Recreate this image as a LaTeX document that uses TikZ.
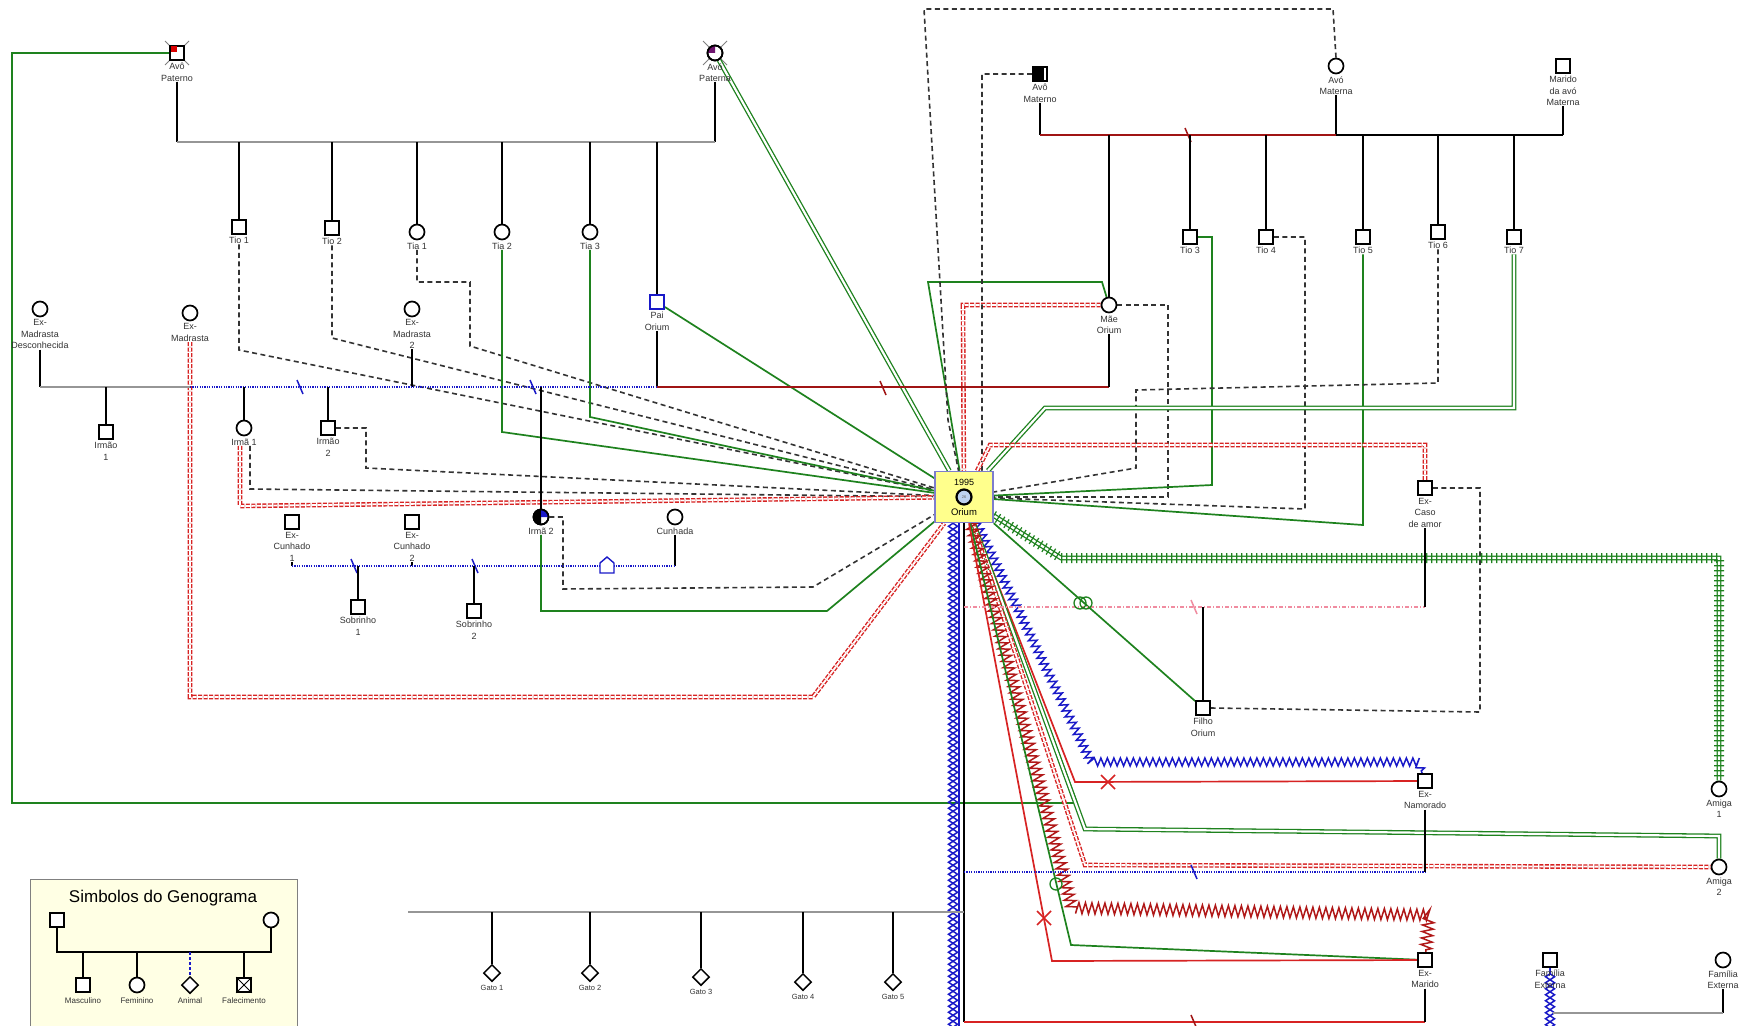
\documentclass[tikz,border=0pt]{standalone}
\usepackage{fontspec}
\setmainfont{Liberation Sans}
\usetikzlibrary{shapes.geometric,decorations.pathmorphing,decorations.pathreplacing,calc}
\pgfdeclarelayer{bg}
\pgfsetlayers{bg,main}
\definecolor{grn}{RGB}{30,130,30}
\definecolor{rd}{RGB}{215,35,35}
\definecolor{drd}{RGB}{160,20,20}
\definecolor{blu}{RGB}{25,25,200}
\definecolor{gry}{RGB}{150,150,150}
\definecolor{pnk}{RGB}{240,140,160}
\definecolor{ylw}{RGB}{255,255,140}
\definecolor{boxb}{RGB}{125,125,205}
\definecolor{legf}{RGB}{255,255,228}
\definecolor{prp}{RGB}{110,20,110}
\newcommand{\mkperson}[4]{\node[#1] (#2) at (#3) {};
  \node[lbl,anchor=north] (#2L) at ([yshift=-1.5pt]#2.south) {#4};}
\newcommand{\divmark}[3]{\draw[#1,line width=1.5pt] (#2-3,#3-7) -- (#2+3,#3+7);}
\newcommand{\xmark}[2]{\draw[rd,line width=1.6pt] (#1-7,#2-7) -- (#1+7,#2+7) (#1-7,#2+7) -- (#1+7,#2-7);}
\begin{document}
\begin{tikzpicture}[x=1pt,y=-1pt,
 male/.style={rectangle,draw,line width=1.7pt,fill=white,minimum size=14pt,inner sep=0},
 female/.style={circle,draw,line width=1.7pt,fill=white,minimum size=15pt,inner sep=0},
 animal/.style={diamond,draw,line width=1.5pt,fill=white,minimum size=17pt,inner sep=0},
 lbl/.style={font=\fontsize{9}{11.5}\selectfont,align=center,inner sep=0.5pt,text=black!80},
 fam/.style={line width=1.7pt,black},
 sibg/.style={line width=2.2pt,gry},
 marr/.style={line width=1.7pt,drd},
 bdot/.style={blu,line width=1.8pt,dash pattern=on 1.2pt off 1.2pt},
 dsh/.style={black!80,line width=1.6pt,dash pattern=on 5pt off 3.5pt},
 g1/.style={grn,line width=1.7pt},
 g2/.style={draw=grn,double=white,double distance=2.2pt,line width=1.3pt},
 r2/.style={draw=rd,double=white,double distance=1.8pt,line width=1.4pt,dash pattern=on 4pt off 1.5pt},
 r1/.style={rd,line width=1.7pt},
 bzig/.style={blu,line width=1.5pt,decorate,decoration={zigzag,segment length=6.5pt,amplitude=4pt}},
 rzig/.style={drd!70!rd,line width=1.5pt,decorate,decoration={zigzag,segment length=6.5pt,amplitude=5.5pt}},
 pdd/.style={pnk,line width=1.4pt,dash pattern=on 4pt off 2pt on 1pt off 2pt},
 violA/.style={blu,line width=1.5pt,decorate,decoration={zigzag,segment length=12pt,amplitude=4.5pt}},
 violB/.style={blu,line width=1.5pt,decorate,decoration={zigzag,segment length=12pt,amplitude=-4.5pt}},
]
\useasboundingbox (0,0) rectangle (1742,1025);

% ---------- people ----------
\mkperson{male}{avoP}{177,53}{Avô\\Paterno}
\fill[red!85!black] (170.5,46.5) rectangle (176.5,52.5);
\mkperson{female}{avoPa}{715,53}{Avó\\Paterna}
\fill[prp] (715,53) -- (707.5,53) arc (180:270:7.5) -- cycle;
\node[female,fill=none] at (715,53) {};
\mkperson{male}{tio1}{239,227}{Tio 1}
\mkperson{male}{tio2}{332,228}{Tio 2}
\mkperson{female}{tia1}{417,232}{Tia 1}
\mkperson{female}{tia2}{502,232}{Tia 2}
\mkperson{female}{tia3}{590,232}{Tia 3}
\mkperson{male,draw=blu}{pai}{657,302}{Pai\\Orium}
\mkperson{female}{exmd}{40,309}{Ex-\\Madrasta\\Desconhecida}
\mkperson{female}{exm}{190,313}{Ex-\\Madrasta}
\mkperson{female}{exm2}{412,309}{Ex-\\Madrasta\\2}
\mkperson{male}{irmao1}{106,432}{Irmão\\1}
\mkperson{female}{irma1}{244,428}{Irmã 1}
\mkperson{male}{irmao2}{328,428}{Irmão\\2}
\mkperson{female}{irma2}{541,517}{Irmã 2}
\fill[black] (541,524.5) arc (90:270:7.5) -- cycle;
\fill[blu] (541,517) -- (548.5,517) arc (0:-90:7.5) -- cycle;
\node[female,fill=none] at (541,517) {};
\mkperson{male}{excun1}{292,522}{Ex-\\Cunhado\\1}
\mkperson{male}{excun2}{412,522}{Ex-\\Cunhado\\2}
\mkperson{female}{cunhada}{675,517}{Cunhada}
\mkperson{male}{sob1}{358,607}{Sobrinho\\1}
\mkperson{male}{sob2}{474,611}{Sobrinho\\2}
\mkperson{male}{avoM}{1040,74}{Avô\\Materno}
\fill[black] (1033,67) rectangle (1044,81);
\mkperson{female}{avoMa}{1336,66}{Avó\\Materna}
\mkperson{male}{marido}{1563,66}{Marido\\da avó\\Materna}
\mkperson{female}{mae}{1109,305}{Mãe\\Orium}
\mkperson{male}{tio3}{1190,237}{Tio 3}
\mkperson{male}{tio4}{1266,237}{Tio 4}
\mkperson{male}{tio5}{1363,237}{Tio 5}
\mkperson{male}{tio6}{1438,232}{Tio 6}
\mkperson{male}{tio7}{1514,237}{Tio 7}
\mkperson{male}{excaso}{1425,488}{Ex-\\Caso\\de amor}
\mkperson{male}{filho}{1203,708}{Filho\\Orium}
\mkperson{female}{amiga1}{1719,789}{Amiga\\1}
\mkperson{female}{amiga2}{1719,867}{Amiga\\2}
\mkperson{male}{exnam}{1425,781}{Ex-\\Namorado}
\mkperson{male}{exmar}{1425,960}{Ex-\\Marido}
\mkperson{male}{fame1}{1550,960}{Família\\Externa}
\mkperson{female}{fame2}{1723,960}{Família\\Externa}
\foreach \i/\x/\y in {1/492/973,2/590/973,3/701/977,4/803/982,5/893/982}{
  \node[animal] (gato\i) at (\x,\y) {};
  \node[lbl,font=\fontsize{7.5}{9}\selectfont,anchor=north] (gato\i L) at ([yshift=-2pt]gato\i.south) {Gato \i};
}

% ---------- Orium ----------
\node[draw=boxb,line width=1.5pt,fill=ylw,minimum width=58pt,minimum height=51pt] (orium) at (964,497) {};
\node[lbl,text=black] at (964,482) {1995};
\node[circle,draw,line width=2.2pt,fill={rgb,255:red,190;green,210;blue,240},minimum size=15pt,inner sep=0,font=\fontsize{4}{4}\selectfont,text=black!60] (oriumC) at (964,497) {26};
\node[lbl,text=black,font=\fontsize{9.5}{10}\selectfont] at (964,512) {Orium};

% house symbol
\draw[blu,line width=1.4pt,fill=white] (600,573) -- (600,563) -- (607,557) -- (614,563) -- (614,573) -- cycle;
% markers
\xmark{1108}{782}
\xmark{1044}{918}
\draw[grn,line width=1.3pt] (1080,603) circle[radius=6pt] (1086,603) circle[radius=6pt];
\draw[grn,line width=1.3pt] (1056,884) circle[radius=6pt];

% ---------- legend ----------
\node[draw=gray,line width=1pt,fill=legf,minimum width=267pt,minimum height=152pt,anchor=north west] (leg) at (30,879) {};
\node[font=\fontsize{17}{20}\selectfont] (legT) at (163,898) {Simbolos do Genograma};
\node[male] (lgM) at (57,920) {};
\node[female] (lgF) at (271,920) {};
\draw[fam] (lgM.south) -- (57,952) -- (271,952) -- (lgF.south);
\node[male] (lgC1) at (83,985) {};
\node[female] (lgC2) at (137,985) {};
\node[animal] (lgC3) at (190,985) {};
\node[male] (lgC4) at (244,985) {};
\draw[line width=1pt] (lgC4.north west) -- (lgC4.south east) (lgC4.north east) -- (lgC4.south west);
\draw[fam] (83,952) -- (lgC1.north);
\draw[fam] (137,952) -- (lgC2.north);
\draw[blu,line width=1.4pt,dash pattern=on 3pt off 2pt] (190,952) -- (lgC3.north);
\draw[fam] (244,952) -- (lgC4.north);
\foreach \x/\t in {83/Masculino,137/Feminino,190/Animal,244/Falecimento}
  \node[lbl,font=\fontsize{8}{9}\selectfont] at (\x,1001) {\t};

\begin{pgfonlayer}{bg}
\fill[white] (0,0) rectangle (1742,1025);
% deceased marks
\draw[gray,line width=0.8pt] (165,41) -- (189,65) (189,41) -- (165,65);
\draw[gray,line width=0.8pt] (703,41) -- (727,65) (727,41) -- (703,65);

% ---------- emotional relationships ----------
\draw[g1] (avoP.west) -- (12,53) -- (12,803) -- (1077,803) -- (orium);
\draw[g2] (avoPa) -- (orium);
\draw[g1] (pai) -- (orium);
\draw[dsh] (tio1L.south) -- (239,350) -- (orium);
\draw[dsh] (tio2L.south) -- (332,338) -- (orium);
\draw[dsh] (tia1L.south) -- (417,282) -- (470,282) -- (470,346) -- (orium);
\draw[g1] (tia2L.south) -- (502,432) -- (orium);
\draw[g1] (tia3L.south) -- (590,417) -- (orium);
\draw[dsh] (irmao2.east) -- (366,428) -- (366,468) -- (orium);
\draw[dsh] ([xshift=6pt]irma1L.south) -- (250,489) -- (orium);
\draw[r2] ([xshift=-4pt]irma1L.south) -- (240,506) -- (orium);
\draw[r2] (exmL.south) -- (190,697) -- (813,697) -- (orium);
\draw[dsh] (irma2.east) -- (563,517) -- (563,589) -- (813,587) -- (orium);
\draw[g1] (irma2L.south) -- (541,611) -- (827,611) -- (orium);
\draw[g1] (mae) -- (1102,282) -- (928,282) -- (orium);
\draw[r2] (mae.west) -- (963,305) -- (orium);
\draw[dsh] (mae.east) -- (1168,305) -- (1168,497) -- (orium);
\draw[dsh] (avoM.west) -- (982,74) -- (982,470) -- (orium);
\draw[dsh] (avoMa.north) -- (1333,9) -- (924,9) -- (948,420) -- (orium);
\draw[g1] (tio3.east) -- (1212,237) -- (1212,485) -- (orium);
\draw[dsh] (tio4.east) -- (1305,237) -- (1305,509) -- (orium);
\draw[g1] (tio5L.south) -- (1363,525) -- (orium);
\draw[dsh] (tio6L.south) -- (1438,383) -- (1136,390) -- (1136,468) -- (orium);
\draw[g2] (tio7L.south) -- (1514,408) -- (1045,408) -- (orium);
\draw[r2] (excaso.north) -- (1425,445) -- (990,445) -- (orium);
\draw[dsh] (excaso.east) -- (1480,488) -- (1480,712) -- (filho.east);
\draw[g1] (orium) -- (filho);
\draw[g2] (orium) -- (1061,558) -- (1719,558) -- (amiga1);
\draw[grn,line width=1.2pt,decorate,decoration={ticks,segment length=5pt,amplitude=5pt}] (orium) -- (1061,558) -- (1719,558) -- (amiga1);
\draw[bzig] (orium) -- (1091,762) -- (1418,762) -- (exnam);
\draw[r1] (orium) -- (1075,782) -- (exnam);
\draw[g2] (orium) -- (1085,829) -- (1719,836) -- (amiga2);
\draw[r2] (orium) -- (1085,865) -- (amiga2);
\draw[rzig] (orium) -- (1072,908) -- (1429,915) -- (exmar);
\draw[g1] (orium) -- (1071,945) -- (exmar);
\draw[r1] (orium) -- (1052,961) -- (exmar);
\coordinate (vb1) at (953,1050);
\coordinate (vb2) at (1550,1050);
\draw[violA] ([xshift=-11pt]orium.south) -- (vb1) -- (vb2) -- (fame1);
\draw[violB] ([xshift=-11pt]orium.south) -- (vb1) -- (vb2) -- (fame1);
\draw[blu,line width=1.5pt] ([xshift=-5pt]orium.south) -- ++(0,540);

% ---------- family lines ----------
\draw[fam] (avoPL.south) -- (177,142);
\draw[fam] (avoPaL.south) -- (715,142);
\draw[sibg] (177,142) -- (715,142);
\foreach \n/\x in {tio1/239,tio2/332,tia1/417,tia2/502,tia3/590,pai/657}
  \draw[fam] (\x,142) -- (\n.north);
\draw[fam] (paiL.south) -- (657,387);
\draw[fam] (exmdL.south) -- (40,387);
\draw[fam] (exm2L.south) -- (412,387);
\draw[sibg] (40,387) -- (190,387);
\draw[bdot] (190,387) -- (657,387);
\draw[marr] (657,387) -- (1109,387);
\draw[fam] (maeL.south) -- (1109,387);
\divmark{blu}{300}{387}
\divmark{blu}{533}{387}
\divmark{drd}{883}{388}
\draw[fam] (106,387) -- (irmao1.north);
\draw[fam] (244,387) -- (irma1.north);
\draw[fam] (328,387) -- (irmao2.north);
\draw[fam] (541,387) -- (irma2.north);
\draw[fam] (excun1L.south) -- (292,566);
\draw[fam] (excun2L.south) -- (412,566);
\draw[fam] (cunhadaL.south) -- (675,566);
\draw[bdot] (292,566) -- (675,566);
\divmark{blu}{354}{566}
\divmark{blu}{475}{566}
\draw[fam] (358,566) -- (sob1.north);
\draw[fam] (474,566) -- (sob2.north);
\draw[fam] (avoML.south) -- (1040,135);
\draw[fam] (avoMaL.south) -- (1336,135);
\draw[fam] (maridoL.south) -- (1563,135);
\draw[marr] (1040,135) -- (1336,135);
\draw[fam] (1336,135) -- (1563,135);
\divmark{drd}{1188}{135}
\foreach \n/\x in {mae/1109,tio3/1190,tio4/1266,tio5/1363,tio6/1438,tio7/1514}
  \draw[fam] (\x,135) -- (\n.north);
\coordinate (obot) at (964,1022);
\draw[fam] (orium.south) -- (obot);
\draw[r1] (obot) -- (1425,1022);
\draw[fam] (exmarL.south) -- (1425,1022);
\divmark{drd}{1194}{1022}
\draw[bdot] (964,872) -- (1425,872);
\draw[fam] (exnamL.south) -- (1425,872);
\divmark{blu}{1194}{872}
\draw[pdd] (964,607) -- (1425,607);
\draw[fam] (excasoL.south) -- (1425,607);
\divmark{pnk}{1194}{607}
\draw[fam] (1203,607) -- (filho.north);
\draw[sibg] (408,912) -- (964,912);
\foreach \i/\x in {1/492,2/590,3/701,4/803,5/893}
  \draw[fam] (\x,912) -- (gato\i.north);
\draw[fam] (fame2L.south) -- (1723,1013);
\draw[sibg] (1723,1013) -- (1553,1013);
\end{pgfonlayer}
\end{tikzpicture}
\end{document}
